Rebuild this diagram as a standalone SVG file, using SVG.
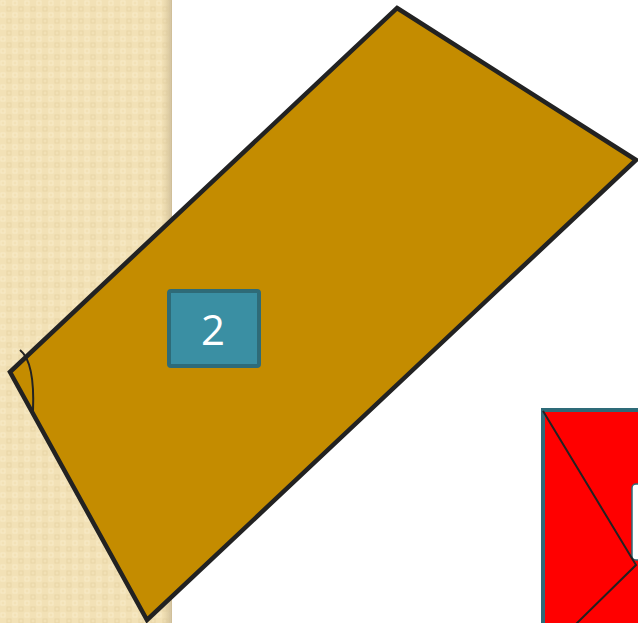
<svg xmlns="http://www.w3.org/2000/svg" width="638" height="623" viewBox="0 0 638 623">
<defs>
<pattern id="tex" width="12" height="12" patternUnits="userSpaceOnUse">
<rect width="12" height="12" fill="#F2E1B6"/>
<rect x="1" y="1" width="4" height="4" fill="none" stroke="#F8EBC8" stroke-width="1"/>
<rect x="7" y="7" width="4" height="4" fill="none" stroke="#E9D6A6" stroke-width="1"/>
</pattern>
<linearGradient id="sh" x1="0" x2="1" y1="0" y2="0">
<stop offset="0" stop-color="#E0CFA5" stop-opacity="0"/>
<stop offset="1" stop-color="#CDBB93"/>
</linearGradient>
<style>
.edge{fill:none;stroke:#222;stroke-width:2}
.lbl{fill:#3A8FA3;stroke:#2E6B78;stroke-width:4}
.t{font-family:"Open Sans","Noto Sans",sans-serif;font-size:42px;fill:#fff;text-anchor:middle}
</style>
</defs>
<rect width="638" height="623" fill="#fff"/>
<g id="background">
<rect x="0" y="0" width="170" height="623" fill="url(#tex)"/>
<rect x="162" y="0" width="10" height="623" fill="url(#sh)"/>
</g>
<g id="red-shape">
<rect x="543" y="410" width="110" height="230" fill="#FF0000" stroke="#2E6B78" stroke-width="4"/>
<rect x="632" y="484" width="20" height="76" rx="4" fill="#fff" stroke="#2E6B78" stroke-width="1.5"/>
</g>
<g id="parallelogram">
<polygon points="397,8 636,160 147,620 10,372" fill="#C48C00" stroke="#222" stroke-width="4.5" stroke-linejoin="miter"/>
</g>
<g id="connectors">
<path class="edge" d="M20,350 Q35,362 33,411"/>
<path class="edge" d="M543,411 L636,565 L575,625"/>
</g>
<g id="label-2">
<rect class="lbl" x="169" y="291" width="90" height="75" rx="2"/>
<text class="t" x="213" y="345">2</text>
</g>
</svg>
